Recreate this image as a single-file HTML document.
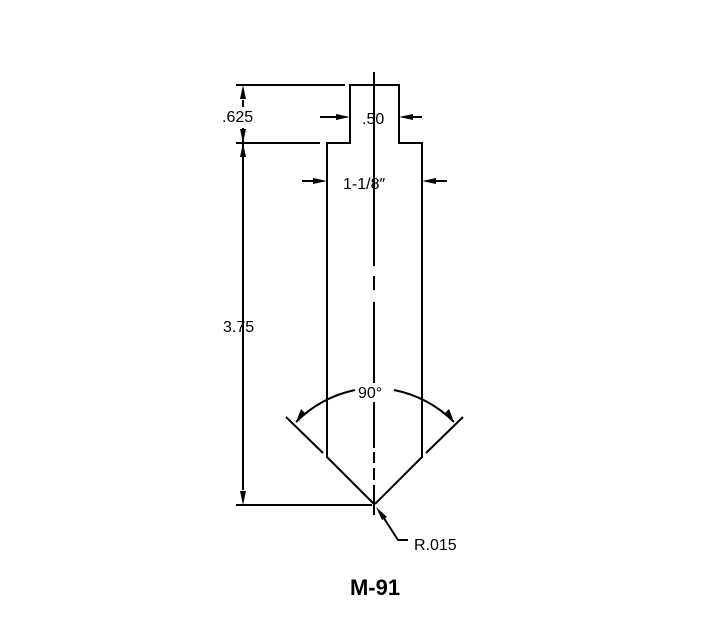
<!DOCTYPE html>
<html><head><style>body{margin:0;background:#fff}svg{display:block}</style></head><body>
<svg width="703" height="642" xmlns="http://www.w3.org/2000/svg" font-family="Liberation Sans, sans-serif">
<g stroke="#000" stroke-width="2" fill="none">
<path d="M327,458 V143 H350 V85 H399 V143 H422 V458"/>
<line x1="236" y1="85" x2="345" y2="85"/>
<line x1="236" y1="143" x2="320" y2="143"/>
<line x1="236" y1="505" x2="372" y2="505"/>
<line x1="243" y1="100" x2="243" y2="107"/>
<line x1="243" y1="128" x2="243" y2="490"/>
<path d="M374,72 V266 M374,276 V290 M374,302 V383 M374,402 V448 M374,452 V463 M374,468 V480 M374,485 V515"/>
<line x1="286" y1="417" x2="323" y2="453"/>
<line x1="327" y1="457" x2="374" y2="504"/>
<line x1="463" y1="417" x2="426" y2="453"/>
<line x1="422" y1="457" x2="375" y2="504"/>
<path d="M296,422 A118 118 0 0 1 355,390"/>
<path d="M394,390 A118 118 0 0 1 454,422"/>
<line x1="320" y1="117" x2="340" y2="117"/>
<line x1="410" y1="117" x2="422" y2="117"/>
<line x1="302" y1="181" x2="318" y2="181"/>
<line x1="431" y1="181" x2="447" y2="181"/>
<path d="M380,512 L398,540 H408"/>
</g>
<g fill="#000">
<path d="M243,85 l-3,14 h6z"/>
<path d="M243,143 l-3,-14 h6z"/>
<path d="M243,143 l-3,14 h6z"/>
<path d="M243,505 l-3,-14 h6z"/>
<path d="M350,117 l-14,-3 v6z"/>
<path d="M399,117 l14,-3 v6z"/>
<path d="M327,181 l-14,-3 v6z"/>
<path d="M422,181 l14,-3 v6z"/>
<path d="M296,422 l5,-13 l5,5z"/>
<path d="M454,422 l-5,-13 l-5,5z"/>
<path d="M376,507 l11,10 l-5,3z"/>
</g>
<g font-size="16" fill="#000">
<text x="222" y="122">.625</text>
<text x="362" y="124">.50</text>
<text x="343" y="189">1-1/8″</text>
<text x="223" y="332">3.75</text>
<text x="358" y="398">90°</text>
<text x="414" y="550">R.015</text>
</g>
<text x="375" y="595" font-size="22" font-weight="bold" text-anchor="middle">M-91</text>
</svg>
</body></html>
